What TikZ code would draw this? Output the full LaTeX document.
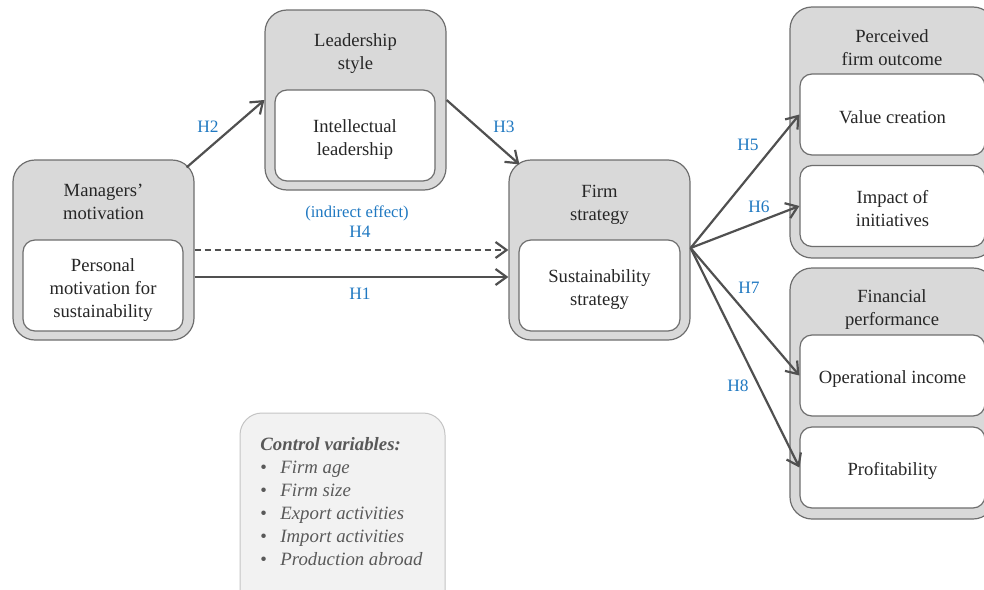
\documentclass[tikz,border=0pt]{standalone}
\usepackage{fontspec}
\setmainfont{Liberation Serif}
\usetikzlibrary{arrows.meta,calc}

\definecolor{boxgray}{HTML}{D9D9D9}
\definecolor{edgegray}{HTML}{6E6E6E}
\definecolor{inkgray}{HTML}{262626}
\definecolor{arrowgray}{HTML}{505050}
\definecolor{hblue}{HTML}{1F78C1}
\definecolor{ctrlfill}{HTML}{F2F2F2}
\definecolor{ctrledge}{HTML}{C4C4C4}
\definecolor{ctrltext}{HTML}{595959}

\tikzset{
  maintext/.style={font=\fontsize{9.3}{11.5}\selectfont, text=inkgray, align=center},
  construct/.style={draw=edgegray, line width=0.6pt, fill=boxgray,
    rounded corners=11pt, inner sep=0pt},
  itembox/.style={draw=edgegray, line width=0.6pt, fill=white,
    rounded corners=6pt, inner sep=0pt},
  itemtext/.style={maintext, inner sep=0pt},
  titletext/.style={maintext, inner sep=0pt},
  hlabel/.style={font=\fontsize{8.7}{10.5}\selectfont, text=hblue, inner sep=0pt},
  link/.style={draw=arrowgray, line width=1.1pt,
    -{Straight Barb[length=5.5pt,width=8pt,line width=1.1pt]}},
  indirectlink/.style={draw=arrowgray, line width=0.7pt, dash pattern=on 3pt off 2pt,
    -{Straight Barb[length=5.5pt,width=8pt,line width=1.1pt]}},
}

\begin{document}
\begin{tikzpicture}[x=0.5pt,y=-0.5pt]
\useasboundingbox (0,0) rectangle (984,589);
\clip (0,0) rectangle (984,589);

% Managers' motivation
\node[construct, minimum width=90.5pt, minimum height=90pt] (mgr) at (103.5,250) {};
\node[titletext] (mgrT) at (103.5,202) {Managers’\\motivation};
\node[itembox, minimum width=80pt, minimum height=45.5pt] (mgrI) at (103,285.5) {};
\node[itemtext] (mgrIT) at (103,290) {Personal\\motivation for\\sustainability};

% Leadership style
\node[construct, minimum width=90.5pt, minimum height=90pt] (lead) at (355.5,100) {};
\node[titletext] (leadT) at (355.5,53.5) {Leadership\\style};
\node[itembox, minimum width=80pt, minimum height=45.5pt] (leadI) at (355,135.5) {};
\node[itemtext] (leadIT) at (355,139.5) {Intellectual\\leadership};

% Firm strategy
\node[construct, minimum width=90.5pt, minimum height=90pt] (firm) at (599.5,250) {};
\node[titletext] (firmT) at (599.5,205) {Firm\\strategy};
\node[itembox, minimum width=80.5pt, minimum height=45.5pt] (firmI) at (599.5,285.5) {};
\node[itemtext] (firmIT) at (599.5,289.5) {Sustainability\\strategy};

% Perceived firm outcome
\node[construct, minimum width=102.5pt, minimum height=125.5pt] (perc) at (892.5,132.5) {};
\node[titletext] (percT) at (892,47.5) {Perceived\\firm outcome};
\node[itembox, minimum width=92.5pt, minimum height=40.5pt] (val) at (892.5,114.5) {};
\node[itemtext] (valT) at (892.5,117.5) {Value creation};
\node[itembox, minimum width=92.5pt, minimum height=40.5pt] (imp) at (892.5,206) {};
\node[itemtext] (impT) at (892.5,209) {Impact of\\initiatives};

% Financial performance
\node[construct, minimum width=102.5pt, minimum height=125.5pt] (fin) at (892.5,393.5) {};
\node[titletext] (finT) at (892,310) {Financial\\performance};
\node[itembox, minimum width=92.5pt, minimum height=40.5pt] (op) at (892.5,375.5) {};
\node[itemtext] (opT) at (892.5,379.5) {Operational income};
\node[itembox, minimum width=92.5pt, minimum height=40.5pt] (prof) at (892.5,467.5) {};
\node[itemtext] (profT) at (892.5,470.5) {Profitability};

% Control variables
\node[draw=ctrledge, line width=0.5pt, fill=ctrlfill, rounded corners=11pt,
  minimum width=102.5pt, minimum height=103.5pt, inner sep=0pt] (ctrl) at (342.5,516.5) {};
\node[anchor=north west, inner sep=0pt, align=left, text=ctrltext,
  font=\fontsize{9.4}{11.5}\selectfont\itshape] (ctrlT) at (260,437)
  {\textbf{Control variables:}\\
   \makebox[10pt][l]{\upshape\textbullet}Firm age\\
   \makebox[10pt][l]{\upshape\textbullet}Firm size\\
   \makebox[10pt][l]{\upshape\textbullet}Export activities\\
   \makebox[10pt][l]{\upshape\textbullet}Import activities\\
   \makebox[10pt][l]{\upshape\textbullet}Production abroad};

% Hypothesised paths
\draw[link] ($(mgr.north east)+(-8,8)$) -- (lead.west);
\draw[link] (lead.east) -- ($(firm.north west)+(11,5)$);
\draw[indirectlink] (mgr.east) -- (firm.west);
\draw[link] ($(mgr.east)+(0,27)$) -- ($(firm.west)+(0,27)$);
\draw[link] ($(firm.east)+(0,-2)$) -- (val.west);
\draw[link] ($(firm.east)+(0,-2)$) -- (imp.west);
\draw[link] ($(firm.east)+(0,-2)$) -- (op.west);
\draw[link] ($(firm.east)+(0,-2)$) -- (prof.west);

% Path labels
\node[hlabel] (h2) at (208,127) {H2};
\node[hlabel] (h3) at (504,127) {H3};
\node[hlabel, font=\fontsize{8.3}{10}\selectfont] (ind) at (357,213) {(indirect effect)};
\node[hlabel] (h4) at (360,232) {H4};
\node[hlabel] (h1) at (360,294) {H1};
\node[hlabel] (h5) at (748,145) {H5};
\node[hlabel] (h6) at (759,207) {H6};
\node[hlabel] (h7) at (749,288) {H7};
\node[hlabel] (h8) at (738,386) {H8};
\end{tikzpicture}
\end{document}
